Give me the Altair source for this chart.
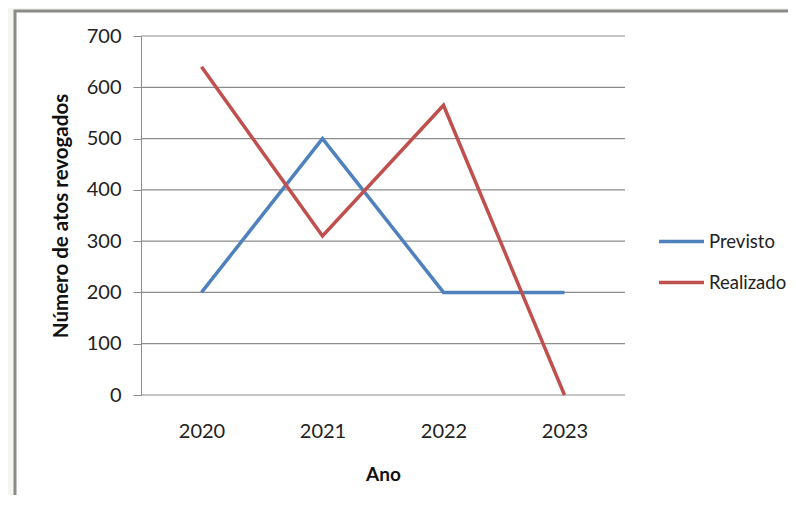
import altair as alt
import pandas as pd

anos = ["2020", "2021", "2022", "2023"]
previsto = [200, 500, 200, 200]
realizado = [640, 310, 565, 0]
series = ["Previsto", "Realizado"]
cores = ["#4F81BD", "#C0504D"]
y_ticks = [0, 100, 200, 300, 400, 500, 600, 700]

rows = []
for a, p in zip(anos, previsto):
    rows.append({"Ano": a, "Série": "Previsto", "Valor": p})
for a, r in zip(anos, realizado):
    rows.append({"Ano": a, "Série": "Realizado", "Valor": r})
df = pd.DataFrame(rows)
grid_df = pd.DataFrame({"v": y_ticks})

FONT = "Lato"

frame = alt.Chart(pd.DataFrame({"k": [0]})).mark_rect(
    fill="white", stroke="#8a8a8a", strokeWidth=3
).encode(
    x=alt.value(-126), x2=alt.value(900), y=alt.value(-25), y2=alt.value(700)
)

grid = alt.Chart(grid_df).mark_rule(color="#8c8c8c", strokeWidth=1.2).encode(
    y=alt.Y("v:Q", scale=alt.Scale(domain=[0, 700]))
)

lines = alt.Chart(df).mark_line(strokeWidth=3.5).encode(
    x=alt.X("Ano:O", sort=anos, scale=alt.Scale(padding=0.5),
            axis=alt.Axis(title="Ano", labelAngle=0, ticks=False, domain=False,
                          labelPadding=26, titlePadding=24, zindex=1)),
    y=alt.Y("Valor:Q", scale=alt.Scale(domain=[0, 700], nice=False),
            axis=alt.Axis(title="Número de atos revogados", values=y_ticks,
                          grid=False, tickSize=8, labelPadding=12,
                          titlePadding=15, titleFontSize=20.5,
                          domainColor="#8c8c8c",
                          tickColor="#8c8c8c", zindex=1)),
    color=alt.Color("Série:N", scale=alt.Scale(domain=series, range=cores),
                    legend=alt.Legend(title=None, orient="none", legendX=516,
                                      legendY=181, symbolType="stroke",
                                      symbolSize=2025, symbolStrokeWidth=3.5,
                                      labelOffset=3, rowPadding=7,
                                      labelFontSize=18.5, labelFont=FONT,
                                      labelColor="#222222")),
)

chart = alt.layer(frame, grid, lines).properties(
    width=484, height=359,
    padding={"left": 133, "top": 28, "right": 163, "bottom": 100},
    autosize=alt.AutoSizeParams(type="none"),
    background="#f3f5ee",
).configure_view(stroke=None).configure_axis(
    labelFont=FONT, labelFontSize=20, labelColor="#222222",
    titleFont=FONT, titleFontSize=19, titleColor="#111111", titleFontWeight="bold",
)

chart.save("out.html", embed_options={"renderer": "svg", "actions": False})
